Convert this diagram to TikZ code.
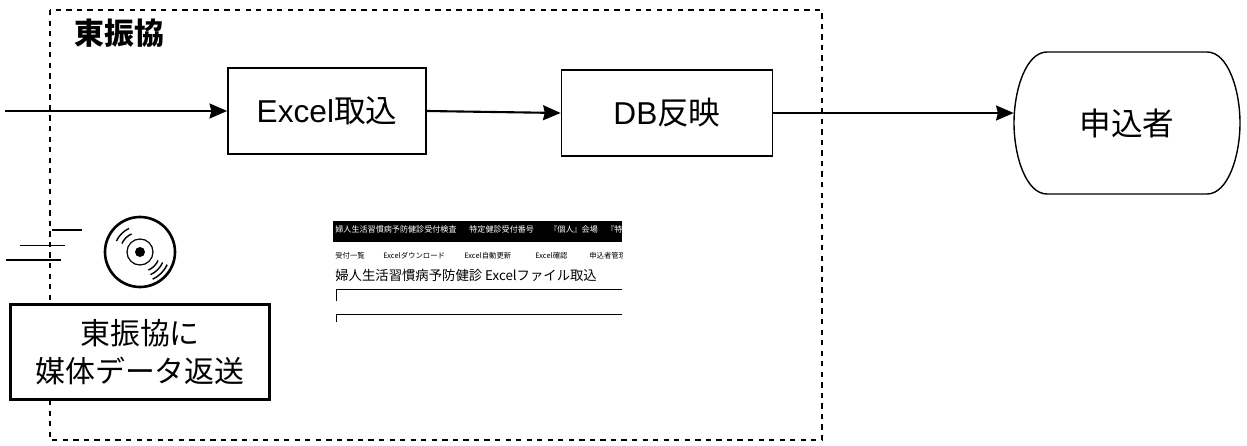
\documentclass[tikz,border=0pt]{standalone}
\usepackage{fontspec}
\setmainfont{Noto Sans CJK JP}
\newfontfamily\latinfont{Liberation Sans}
\usetikzlibrary{arrows.meta}
\tikzset{
  procbox/.style={draw,line width=1pt,minimum height=1.72cm,font=\fontsize{18}{20}\selectfont},
  flow/.style={line width=1.2pt,-{Stealth[length=10pt,width=8.5pt,inset=1pt]}},
  shottext/.style={inner sep=0pt,anchor=west},
}
\begin{document}
\begin{tikzpicture}[x=0.02cm,y=-0.02cm]
    \useasboundingbox (0,0) rectangle (1247,446);

    % Marco
    \draw[dashed,line width=0.7pt] (50,10) rectangle (822,440);
    \node[anchor=west,inner sep=0pt,font=\fontsize{17}{20}\selectfont\bfseries] (orglabel) at (74,33) {東振協};

    % Cajas
    \coordinate (input) at (5,111);
    \node[procbox,minimum width=3.96cm] (excelbox) at (327,111) {{\latinfont Excel}取込};
    \node[procbox,minimum width=4.22cm] (dbbox) at (667,113) {{\latinfont DB}反映};
    \node[minimum width=4.52cm,minimum height=2.84cm,inner sep=0pt,font=\fontsize{18}{20}\selectfont] (applicant) at (1127,123) {申込者};
    \draw[line width=0.8pt] (1047,52) -- (1207,52) .. controls (1228,52) and (1240,90) .. (1240,123)
      .. controls (1240,156) and (1228,194) .. (1207,194) -- (1047,194)
      .. controls (1026,194) and (1014,156) .. (1014,123)
      .. controls (1014,90) and (1026,52) .. (1047,52) -- cycle;

    % Flechas
    \draw[flow] (input) -- (excelbox.west);
    \draw[flow] (excelbox.east) -- (dbbox.west);
    \draw[flow] (dbbox.east) -- (dbbox.east -| applicant.west);

    % Pantalla
    \begin{scope}
      \clip (333,215) rectangle (622,330);
      \fill (333,221) rectangle (622,242);
      \node[shottext,text=white,font=\fontsize{4.6}{5}\selectfont] (shotA) at (335,229) {婦人生活習慣病予防健診受付検査};
      \node[shottext,text=white,font=\fontsize{4.6}{5}\selectfont] (shotB) at (469,229) {特定健診受付番号};
      \node[shottext,text=white,font=\fontsize{4.6}{5}\selectfont] (shotC) at (549,229) {『個人』会場};
      \node[shottext,text=white,font=\fontsize{4.6}{5}\selectfont] (shotD) at (606,229) {『特定};
      \node[shottext,font=\fontsize{4.2}{5}\selectfont] (menuA) at (335,256) {受付一覧};
      \node[shottext,font=\fontsize{4.2}{5}\selectfont] (menuB) at (383,256) {Excelダウンロード};
      \node[shottext,font=\fontsize{4.2}{5}\selectfont] (menuC) at (464,256) {Excel自動更新};
      \node[shottext,font=\fontsize{4.2}{5}\selectfont] (menuD) at (535,256) {Excel確認};
      \node[shottext,font=\fontsize{4.2}{5}\selectfont] (menuE) at (589,256) {申込者管理};
      \node[shottext,font=\fontsize{7.6}{9}\selectfont] (shottitle) at (335,275) {婦人生活習慣病予防健診 Excelファイル取込};
      \draw[line width=0.5pt] (336,301) |- (622,289);
      \draw[line width=0.5pt] (336,322) |- (622,314);
    \end{scope}

    % Disco
    \draw[line width=0.8pt] (52,230) -- (82,230);
    \draw[line width=0.5pt] (20,245) -- (65,245);
    \draw[line width=1pt] (6,260) -- (61,260);
    \draw[line width=1.5pt] (140,252) circle (35);
    \draw[line width=0.7pt] (140,252) circle (13);
    \fill (140,252) circle (5);
    \foreach \r in {20,26} {
      \draw[line width=0.8pt] (140,252) ++(205:\r) arc (205:245:\r);
    }
    \foreach \r in {20,25,30} {
      \draw[line width=0.8pt] (140,252) ++(25:\r) arc (25:65:\r);
    }

    % Nota
    \node[draw,fill=white,line width=1.7pt,minimum width=5.2cm,minimum height=1.9cm,align=center,inner sep=0pt,font=\fontsize{17}{21}\selectfont] (note) at (140,352) {東振協に\\[1pt]媒体データ返送};
\end{tikzpicture}
\end{document}
